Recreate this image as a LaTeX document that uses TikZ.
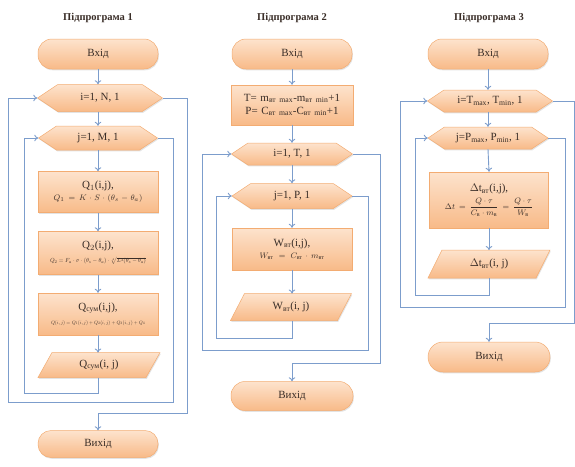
\documentclass[tikz,border=0pt]{standalone}
\usepackage{amsmath}
\usepackage{graphicx}
\usepackage{fontspec}
\setmainfont{Liberation Serif}
\usetikzlibrary{arrows.meta,shadows}
\definecolor{fT}{HTML}{FDE3CD}
\definecolor{fB}{HTML}{F8BA88}
\definecolor{bd}{HTML}{F3AC72}
\definecolor{ln}{HTML}{7C9DCC}
\definecolor{tx}{HTML}{3A2E28}
\tikzset{
  shp/.style={draw=bd, line width=0.5pt, top color=fT, bottom color=fB,
    drop shadow={shadow xshift=0.8pt, shadow yshift=-1.3pt, opacity=0.22}},
  lbl/.style={inner sep=0pt, align=center, text=tx, font=\fontsize{11}{13}\selectfont},
  termbox/.style={shp, lbl, rounded corners=14pt, minimum width=120pt, minimum height=30pt},
  procbox/.style={shp, lbl, minimum width=120pt, text width=120pt},
  ttl/.style={inner sep=0pt, text=tx, font=\bfseries\fontsize{10.5}{12}\selectfont},
  conn/.style={draw=ln, line width=0.9pt, -{To[length=4pt,width=6.5pt]}},
}
\newcommand\smallf{\fontsize{8}{9}\selectfont}
% hexagon: name, x, y, w, h, text
\newcommand\hexnode[6]{%
  \path[shp] ({#2-#4/2},#3) -- ({#2-#4/2+0.75*#5},{#3-#5/2}) -- ({#2+#4/2-0.75*#5},{#3-#5/2})
    -- ({#2+#4/2},#3) -- ({#2+#4/2-0.75*#5},{#3+#5/2}) -- ({#2-#4/2+0.75*#5},{#3+#5/2}) -- cycle;
  \node[lbl, minimum width=#4pt, minimum height=#5pt] (#1) at (#2,#3) {#6};}
% parallelogram: name, x, y, w, h, text
\newcommand\paranode[6]{%
  \path[shp] ({#2-#4/2+14},{#3-#5/2}) -- ({#2+#4/2},{#3-#5/2}) -- ({#2+#4/2-14},{#3+#5/2})
    -- ({#2-#4/2},{#3+#5/2}) -- cycle;
  \node[lbl, minimum width=#4pt, minimum height=#5pt] (#1) at (#2,#3) {#6};}
\begin{document}
\begin{tikzpicture}[x=1pt, y=-1pt]
\useasboundingbox[fill=white] (0,0) rectangle (575,466);
\clip (0,0) rectangle (575,466);

% ---------- Column 1 ----------
\node[ttl] (t1) at (98,18) {Підпрограма 1};
\node[termbox] (in1) at (98,54) {Вхід};
\hexnode{hi1}{100}{98}{125}{27}{i=1, N, 1}
\hexnode{hj1}{98}{138}{119}{24}{j=1, M, 1}
\node[procbox, minimum height=41pt] (q1) at (98,192)
  {Q$_1$(i,j),\\[-1pt]{\smallf $Q_1 = K\cdot S\cdot(\theta_s-\theta_a)$}};
\node[procbox, minimum height=43pt] (q2) at (98,253)
  {Q$_2$(i,j),\\[1pt]\resizebox{96pt}{!}{$Q_2 = F_a\cdot\sigma\cdot(\theta_s-\theta_a)\cdot\sqrt[4]{L^3(\theta_s-\theta_a)}$}};
\node[procbox, minimum height=42pt] (q3) at (98,314)
  {Q$_\text{сум}$(i,j),\\[1pt]\resizebox{94pt}{!}{$Q(i,j)=Q_1(i,j)+Q_2(i,j)+Q_3(i,j)+Q_4$}};
\paranode{o1}{99}{365}{122}{25}{Q$_\text{сум}$(i, j)}
\node[termbox, minimum height=27pt, rounded corners=13pt] (out1) at (98,444) {Вихід};

\draw[conn] (in1) -- (in1 |- hi1.north);
\draw[conn] (98,111.5) -- (hj1.north);
\draw[conn] (hj1.south) -- (q1.north);
\draw[conn] (q1) -- (q2);
\draw[conn] (q2) -- (q3);
\draw[conn] (q3.south) -- (98,352.5);
\draw[conn] (98,377.5) |- (24,393) |- (hj1.west);
\draw[conn] (hj1.east) -| (173,402) -- (8,402) |- (hi1.west);
\draw[conn] (hi1.east) -| (187,413) -| (out1.north);

% ---------- Column 2 ----------
\node[ttl] (t2) at (292,18) {Підпрограма 2};
\node[termbox] (in2) at (292,54) {Вхід};
\node[procbox, minimum width=122pt, text width=122pt, minimum height=40pt] (calc) at (292,105)
  {T= m$_\text{вт max}$-m$_\text{вт min}$+1\\P= C$_\text{вт max}$-C$_\text{вт min}$+1};
\hexnode{hi2}{292}{154}{121}{22}{i=1, T, 1}
\hexnode{hj2}{292}{196}{120}{25}{j=1, P, 1}
\node[procbox, minimum height=42pt] (w2) at (292,249)
  {W$_\text{вт}$(i,j),\\[-1pt]{\smallf $W_\text{вт}=C_\text{вт}\cdot m_\text{вт}$}};
\paranode{o2}{291}{307}{121}{27}{W$_\text{вт}$(i, j)}
\node[termbox, minimum width=122pt, minimum height=29pt] (out2) at (292,396) {Вихід};

\draw[conn] (in2) -- (calc);
\draw[conn] (calc) -- (hi2.north);
\draw[conn] (hi2.south) -- (hj2.north);
\draw[conn] (hj2.south) -- (w2.north);
\draw[conn] (w2.south) -- (292,293.5);
\draw[conn] (292,320.5) |- (216,338) |- (hj2.west);
\draw[conn] (hj2.east) -| (368,350) -- (202,350) |- (hi2.west);
\draw[conn] (hi2.east) -| (380,363) -| (out2.north);

% ---------- Column 3 ----------
\node[ttl] (t3) at (489,18) {Підпрограма 3};
\node[termbox] (in3) at (488,54) {Вхід};
\hexnode{hi3}{490}{101}{125}{22}{i=T$_\text{max}$, T$_\text{min}$, 1}
\hexnode{hj3}{488}{138}{120}{22}{j=P$_\text{max}$, P$_\text{min}$, 1}
\node[procbox, minimum width=119pt, text width=119pt, minimum height=56pt] (d3) at (489,200)
  {$\Delta$t$_\text{вт}$(i,j),\\[3pt]{\fontsize{8}{9}\selectfont $\Delta t=\dfrac{Q\cdot\tau}{C_\text{в}\cdot m_\text{в}}=\dfrac{Q\cdot\tau}{W_\text{в}}$}};
\paranode{o3}{489}{264}{122}{28}{$\Delta$t$_\text{вт}$(i, j)}
\node[termbox, minimum width=122pt, minimum height=30pt, rounded corners=15pt] (out3) at (489,357) {Вихід};

\draw[conn] (in3) -- (in3 |- hi3.north);
\draw[conn] (488,112) -- (hj3.north);
\draw[conn] (hj3.south) -- (d3.north);
\draw[conn] (d3.south) -- (489,250);
\draw[conn] (489,278) |- (415,295) |- (hj3.west);
\draw[conn] (hj3.east) -| (565,307) -- (400,307) |- (hi3.west);
\draw[conn] (hi3.east) -| (574,323) -| (out3.north);
\end{tikzpicture}
\end{document}
